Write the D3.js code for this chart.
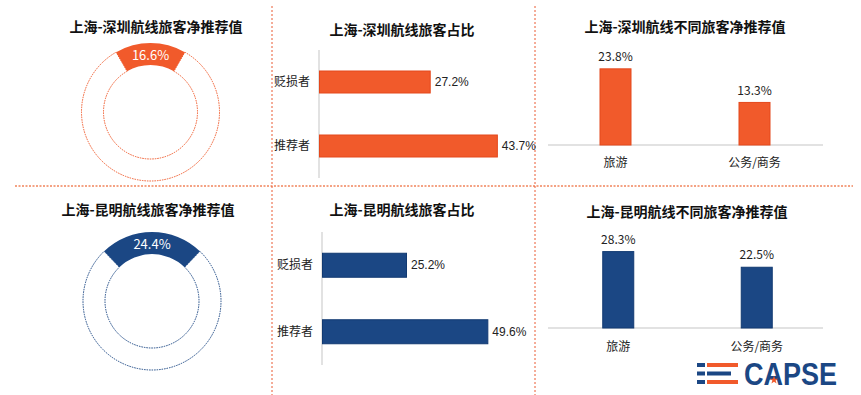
<!DOCTYPE html>
<html>
<head>
<meta charset="utf-8">
<script src="https://cdn.jsdelivr.net/npm/d3@7"></script>
<style>
  html, body { margin: 0; padding: 0; background: #ffffff; }
  svg { display: block; font-family: "Noto Sans CJK SC", "Noto Sans", sans-serif; }
</style>
</head>
<body>
<div id="chart"></div>
<script>
// data
const donutTitles = ['上海-深圳航线旅客净推荐值', '上海-昆明航线旅客净推荐值'];
const donutValues = [16.6, 24.4];

const shareTitles = ['上海-深圳航线旅客占比', '上海-昆明航线旅客占比'];
const shareCategories = ['贬损者', '推荐者'];
const shareShenzhen = [27.2, 43.7];
const shareKunming = [25.2, 49.6];

const typeTitles = ['上海-深圳航线不同旅客净推荐值', '上海-昆明航线不同旅客净推荐值'];
const typeCategories = ['旅游', '公务/商务'];
const typeShenzhen = [23.8, 13.3];
const typeKunming = [28.3, 22.5];

const orange = '#F15A2B';
const orangeEdge = '#E4481C';
const blue = '#1B4784';
const blueEdge = '#123A72';

const width = 861;
const height = 395;

const svg = d3.select('#chart')
  .append('svg')
  .attr('width', width)
  .attr('height', height);

const fmt = (v) => v.toFixed(1) + '%';

function addTitle(x, y, text) {
  svg.append('text')
    .attr('x', x)
    .attr('y', y)
    .attr('dy', '0.35em')
    .attr('text-anchor', 'middle')
    .attr('font-size', '14px')
    .attr('font-weight', 'bold')
    .attr('fill', '#111111')
    .text(text);
}

// ---- dividers ----
svg.append('line')
  .attr('x1', 15).attr('x2', 853)
  .attr('y1', 186).attr('y2', 186)
  .attr('stroke', '#F4A283')
  .attr('stroke-width', 2)
  .attr('stroke-dasharray', '2,1.5');

[272, 535].forEach(x => {
  svg.append('line')
    .attr('x1', x).attr('x2', x)
    .attr('y1', 6).attr('y2', 395)
    .attr('stroke', '#EA5A33')
    .attr('stroke-width', 1)
    .attr('stroke-dasharray', '2,2');
});

// ---- donuts ----
function drawDonut(cx, cy, value, color, title, titleX, titleY) {
  addTitle(titleX, titleY, title);

  const outerR = 69;
  const innerR = 47;
  const g = svg.append('g').attr('transform', `translate(${cx}, ${cy})`);

  const half = value / 100 * Math.PI;
  const pie = d3.pie()
    .sort(null)
    .startAngle(-half)
    .endAngle(2 * Math.PI - half);

  const arc = d3.arc().innerRadius(innerR).outerRadius(outerR);
  const slices = pie([value, 100 - value]);

  // remainder: dotted outline only
  g.append('path')
    .attr('d', arc(slices[1]))
    .attr('fill', 'none')
    .attr('stroke', color)
    .attr('stroke-width', 1)
    .attr('stroke-dasharray', '1.5,1');

  g.append('path')
    .attr('d', arc(slices[0]))
    .attr('fill', color);

  const c = arc.centroid(slices[0]);
  g.append('text')
    .attr('x', c[0])
    .attr('y', c[1] + 1)
    .attr('dy', '0.35em')
    .attr('text-anchor', 'middle')
    .attr('font-size', '13px')
    .attr('fill', '#ffffff')
    .text(fmt(value));
}

drawDonut(150.5, 112, donutValues[0], orange, donutTitles[0], 156, 27);
drawDonut(152, 301, donutValues[1], blue, donutTitles[1], 148, 210);

// ---- horizontal bars ----
function drawShare(values, color, edge, title, titleY, axisX, top, bottom, maxV, maxW, barH) {
  addTitle(402, titleY, title);

  const x = d3.scaleLinear().domain([0, maxV]).range([axisX, axisX + maxW]);
  const y = d3.scaleBand()
    .domain(shareCategories)
    .range([top, bottom])
    .paddingInner(1 - barH / ((bottom - top) / 2))
    .paddingOuter((1 - barH / ((bottom - top) / 2)) / 2);

  svg.append('line')
    .attr('x1', axisX).attr('x2', axisX)
    .attr('y1', top).attr('y2', bottom)
    .attr('stroke', '#D9D9D9')
    .attr('stroke-width', 1.5);

  const rows = svg.append('g')
    .selectAll('g')
    .data(shareCategories.map((c, i) => ({ cat: c, v: values[i] })))
    .enter()
    .append('g');

  rows.append('rect')
    .attr('x', x(0) + 0.5)
    .attr('y', d => y(d.cat))
    .attr('width', d => x(d.v) - x(0))
    .attr('height', y.bandwidth())
    .attr('fill', color)
    .attr('stroke', edge)
    .attr('stroke-width', 1);

  rows.append('text')
    .attr('x', axisX - 9)
    .attr('y', d => y(d.cat) + y.bandwidth() / 2)
    .attr('dy', '0.35em')
    .attr('text-anchor', 'end')
    .attr('font-size', '12px')
    .attr('fill', '#222222')
    .text(d => d.cat);

  rows.append('text')
    .attr('x', d => x(d.v) + 5)
    .attr('y', d => y(d.cat) + y.bandwidth() / 2)
    .attr('dy', '0.35em')
    .attr('font-family', '"Liberation Sans", Arial, sans-serif')
    .attr('font-size', '12px')
    .attr('fill', '#222222')
    .text(d => fmt(d.v));
}

drawShare(shareShenzhen, orange, orangeEdge, shareTitles[0], 30, 319, 50, 178, 50, 203.5, 22);
drawShare(shareKunming, blue, blueEdge, shareTitles[1], 210, 322, 232, 365, 60, 200, 24);

// ---- columns ----
function drawTypes(values, color, edge, title, titleX, titleY, left, right, baseY, maxV, maxH, catY) {
  addTitle(titleX, titleY, title);

  const x = d3.scalePoint().domain(typeCategories).range([left, right]).padding(0.5);
  const y = d3.scaleLinear().domain([0, maxV]).range([baseY, baseY - maxH]);
  const barW = 31;

  svg.append('line')
    .attr('x1', 548).attr('x2', 823)
    .attr('y1', baseY).attr('y2', baseY)
    .attr('stroke', '#D9D9D9')
    .attr('stroke-width', 1.5);

  const cols = svg.append('g')
    .selectAll('g')
    .data(typeCategories.map((c, i) => ({ cat: c, v: values[i] })))
    .enter()
    .append('g');

  cols.append('rect')
    .attr('x', d => x(d.cat) - barW / 2)
    .attr('y', d => y(d.v))
    .attr('width', barW)
    .attr('height', d => y(0) - y(d.v))
    .attr('fill', color)
    .attr('stroke', edge)
    .attr('stroke-width', 1);

  cols.append('text')
    .attr('x', d => x(d.cat))
    .attr('y', d => y(d.v) - 12)
    .attr('dy', '0.35em')
    .attr('text-anchor', 'middle')
    .attr('font-size', '12px')
    .attr('fill', '#222222')
    .text(d => fmt(d.v));

  cols.append('text')
    .attr('x', d => x(d.cat))
    .attr('y', catY)
    .attr('dy', '0.35em')
    .attr('text-anchor', 'middle')
    .attr('font-size', '12px')
    .attr('fill', '#222222')
    .text(d => d.cat);
}

drawTypes(typeShenzhen, orange, orangeEdge, typeTitles[0], 685, 27, 546, 824, 145, 30, 96, 163);
drawTypes(typeKunming, blue, blueEdge, typeTitles[1], 687, 212, 549, 826, 328, 35, 94.5, 347);

// ---- CAPSE logo ----
const logo = svg.append('g').attr('transform', 'translate(697, 362)');
const stripes = [
  { y: 1, long: orange, w: 31 },
  { y: 9.5, long: blue, w: 24 },
  { y: 18, long: orange, w: 31 }
];
stripes.forEach(s => {
  logo.append('rect').attr('x', 0).attr('y', s.y).attr('width', 8).attr('height', 4).attr('fill', blue);
  logo.append('rect').attr('x', 10).attr('y', s.y).attr('width', s.w).attr('height', 4).attr('fill', s.long);
});
logo.append('text')
  .attr('x', 47)
  .attr('y', 22.5)
  .attr('font-family', '"Liberation Sans", Arial, sans-serif')
  .attr('font-size', '31px')
  .attr('font-weight', 'bold')
  .attr('fill', blue)
  .attr('textLength', 93)
  .attr('lengthAdjust', 'spacingAndGlyphs')
  .text('CAPSE');
logo.append('path')
  .attr('d', d3.symbol().type(d3.symbolStar).size(22)())
  .attr('transform', 'translate(77, 18)')
  .attr('fill', orange);
</script>
</body>
</html>
